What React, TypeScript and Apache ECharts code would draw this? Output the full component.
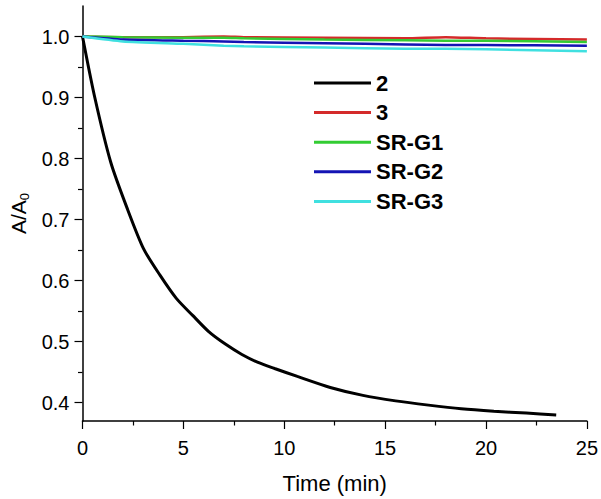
import React, { useEffect, useRef } from "react";
import * as echarts from "echarts";

const legendNames = ["2", "3", "SR-G1", "SR-G2", "SR-G3"];
const colors = ["#000000", "#d42a2a", "#33cc33", "#1414b4", "#40e0e0"];

const t2 = [0, 0.59, 1.4, 2.22, 3.03, 3.84, 4.65, 5.46, 6.27, 7.08, 7.9, 8.7, 9.52, 10.65, 12.28, 13.9, 15.52, 17.15, 18.77, 20.39, 22.0, 23.48];
const v2 = [1.0, 0.903, 0.794, 0.718, 0.652, 0.609, 0.571, 0.543, 0.516, 0.496, 0.479, 0.466, 0.456, 0.443, 0.425, 0.412, 0.403, 0.396, 0.39, 0.386, 0.383, 0.38];

const tFlat = [0, 2, 5, 7, 8, 12, 16, 18, 20, 25];
const v3 = [1.0, 0.999, 0.999, 1.0, 0.999, 0.998, 0.997, 0.999, 0.997, 0.995];
const vG1 = [1.0, 0.999, 0.998, 0.998, 0.997, 0.995, 0.994, 0.993, 0.993, 0.991];
const vG2 = [1.0, 0.995, 0.993, 0.992, 0.991, 0.989, 0.987, 0.986, 0.986, 0.985];
const vG3 = [1.0, 0.992, 0.988, 0.985, 0.984, 0.982, 0.98, 0.98, 0.979, 0.976];

const yMajor = [0.4, 0.5, 0.6, 0.7, 0.8, 0.9, 1.0];
const yMinor = [0.45, 0.55, 0.65, 0.75, 0.85, 0.95];

const FONT = "Liberation Sans, Arial, sans-serif";

function zip(t: number[], v: number[]) {
  return t.map((x, i) => [x, v[i]]);
}

export default function App() {
  const ref = useRef<HTMLDivElement>(null);
  useEffect(() => {
    if (!ref.current) return;
    const chart = echarts.init(ref.current, undefined, { renderer: "svg" });
    const seriesData = [zip(t2, v2), zip(tFlat, v3), zip(tFlat, vG1), zip(tFlat, vG2), zip(tFlat, vG3)];
    chart.setOption({
      animation: false,
      backgroundColor: "#ffffff",
      textStyle: { fontFamily: FONT },
      grid: { left: 74.5, right: 13, top: 6, bottom: 77, containLabel: false },
      legend: {
        orient: "vertical",
        left: 314,
        top: 72,
        padding: 0,
        itemGap: 7.6,
        itemWidth: 57,
        itemHeight: 3,
        icon: "rect",
        data: legendNames,
        textStyle: { fontFamily: FONT, fontSize: 22, fontWeight: "bold", color: "#000", lineHeight: 22 },
      },
      xAxis: {
        type: "value",
        min: 0,
        max: 25,
        interval: 5,
        name: "Time (min)",
        nameLocation: "middle",
        nameGap: 51,
        nameTextStyle: { fontFamily: FONT, fontSize: 22, color: "#000" },
        axisLine: { show: true, onZero: false, lineStyle: { color: "#000", width: 1.5 } },
        axisTick: { show: true, length: 8, lineStyle: { color: "#000", width: 1.2 } },
        minorTick: { show: true, splitNumber: 2, length: 4.5, lineStyle: { color: "#000", width: 1.2 } },
        splitLine: { show: false },
        axisLabel: { fontFamily: FONT, fontSize: 20, color: "#000", margin: 17 },
      },
      yAxis: [
        {
          type: "value",
          min: 0.37,
          max: 1.05,
          name: "{a|A/A}{s|0}",
          nameLocation: "middle",
          nameGap: 52,
          nameRotate: 90,
          nameTextStyle: {
            fontFamily: FONT,
            color: "#000",
            rich: {
              a: { fontFamily: FONT, fontSize: 21, color: "#000", lineHeight: 24 },
              s: { fontFamily: FONT, fontSize: 13, color: "#000", lineHeight: 24, verticalAlign: "bottom", padding: [8, 0, 0, 0] },
            },
          },
          axisLine: { show: true, onZero: false, lineStyle: { color: "#000", width: 1.5 } },
          axisTick: { show: true, length: 8, customValues: yMajor, lineStyle: { color: "#000", width: 1.2 } },
          splitLine: { show: false },
          axisLabel: {
            fontFamily: FONT,
            fontSize: 20,
            color: "#000",
            margin: 13,
            customValues: yMajor,
            formatter: (v: number) => v.toFixed(1),
          },
        },
        {
          type: "value",
          min: 0.37,
          max: 1.05,
          position: "left",
          axisLine: { show: false },
          axisTick: { show: true, length: 4.5, customValues: yMinor, lineStyle: { color: "#000", width: 1.2 } },
          axisLabel: { show: false, customValues: yMinor },
          splitLine: { show: false },
        },
      ],
      series: legendNames.map((n, i) => ({
        name: n,
        type: "line",
        yAxisIndex: 0,
        data: seriesData[i],
        showSymbol: false,
        symbol: "none",
        smooth: i === 0 ? 0.25 : 0.2,
        color: colors[i],
        lineStyle: { color: colors[i], width: i === 0 ? 3 : 2.5 },
        z: 2 + i,
      })),
    });
    return () => chart.dispose();
  }, []);
  return (
    <div
      ref={ref}
      style={{ position: "fixed", left: 0, top: 0, width: 601, height: 499 }}
    />
  );
}
